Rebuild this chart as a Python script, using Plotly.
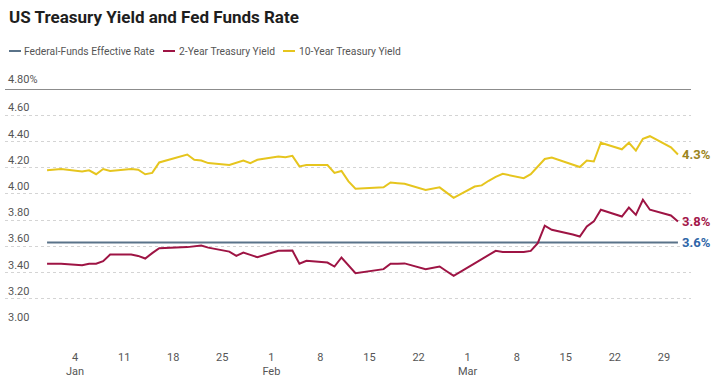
import plotly.graph_objects as go

# ---------------- data ----------------
dates = [
    "2025-12-31", "2026-01-02",
    "2026-01-05", "2026-01-06", "2026-01-07", "2026-01-08", "2026-01-09",
    "2026-01-12", "2026-01-13", "2026-01-14", "2026-01-15", "2026-01-16",
    "2026-01-20", "2026-01-21", "2026-01-22", "2026-01-23",
    "2026-01-26", "2026-01-27", "2026-01-28", "2026-01-29", "2026-01-30",
    "2026-02-02", "2026-02-03", "2026-02-04", "2026-02-05", "2026-02-06",
    "2026-02-09", "2026-02-10", "2026-02-11", "2026-02-12", "2026-02-13",
    "2026-02-17", "2026-02-18", "2026-02-19", "2026-02-20",
    "2026-02-23", "2026-02-24", "2026-02-25", "2026-02-26", "2026-02-27",
    "2026-03-02", "2026-03-03", "2026-03-04", "2026-03-05", "2026-03-06",
    "2026-03-09", "2026-03-10", "2026-03-11", "2026-03-12", "2026-03-13",
    "2026-03-16", "2026-03-17", "2026-03-18", "2026-03-19", "2026-03-20",
    "2026-03-23", "2026-03-24", "2026-03-25", "2026-03-26", "2026-03-27",
    "2026-03-30", "2026-03-31",
]

ten_year = [
    4.18, 4.19,
    4.17, 4.18, 4.15, 4.19, 4.175,
    4.19, 4.185, 4.15, 4.16, 4.24,
    4.30, 4.26, 4.255, 4.235,
    4.22, 4.24, 4.255, 4.235, 4.26,
    4.285, 4.28, 4.29, 4.21, 4.22,
    4.22, 4.16, 4.175, 4.095, 4.04,
    4.05, 4.087, 4.082, 4.077,
    4.03, 4.04, 4.05, 4.01, 3.97,
    4.056, 4.065, 4.10, 4.13, 4.153,
    4.12, 4.15, 4.21, 4.266, 4.278,
    4.225, 4.205, 4.255, 4.247, 4.39,
    4.34, 4.39, 4.33, 4.42, 4.44,
    4.355, 4.30,
]

two_year = [
    3.467, 3.467,
    3.455, 3.467, 3.467, 3.487, 3.537,
    3.537, 3.527, 3.507, 3.548, 3.586,
    3.594, 3.600, 3.606, 3.590,
    3.560, 3.527, 3.553, 3.535, 3.517,
    3.566, 3.567, 3.568, 3.467, 3.490,
    3.476, 3.446, 3.515, 3.459, 3.395,
    3.426, 3.467, 3.468, 3.470,
    3.426, 3.436, 3.446, 3.410, 3.375,
    3.470, 3.500, 3.535, 3.566, 3.556,
    3.556, 3.565, 3.624, 3.757, 3.726,
    3.690, 3.675, 3.751, 3.790, 3.879,
    3.827, 3.896, 3.840, 3.955, 3.879,
    3.835, 3.790,
]

fed_funds = [3.63] * len(dates)

series_names = ["Federal-Funds Effective Rate", "2-Year Treasury Yield", "10-Year Treasury Yield"]
end_labels = ["3.6%", "3.8%", "4.3%"]

y_tickvals = [3.0, 3.2, 3.4, 3.6, 3.8, 4.0, 4.2, 4.4, 4.6, 4.8]
y_ticktext = ["3.00", "3.20", "3.40", "3.60", "3.80", "4.00", "4.20", "4.40", "4.60", "4.80%"]

x_tickvals = ["2026-01-04", "2026-01-11", "2026-01-18", "2026-01-25", "2026-02-01",
              "2026-02-08", "2026-02-15", "2026-02-22", "2026-03-01", "2026-03-08",
              "2026-03-15", "2026-03-22", "2026-03-29"]
x_ticktext = ["4<br>Jan", "11", "18", "25", "1<br>Feb", "8", "15", "22", "1<br>Mar",
              "8", "15", "22", "29"]

# ---------------- style ----------------
FONT = "Roboto, sans-serif"
c_fed = "#5a7389"
c_two = "#9e1444"
c_ten = "#e6c51e"
lbl_colors = ["#2f66a8", "#a3164a", "#9a8420"]
line_colors = [c_fed, c_two, c_ten]

W, H = 724, 381
L, R, T, B = 5, 33, 89, 56
PW, PH = W - L - R, H - T - B


def px(x):
    return (x - L) / PW


def py(y):
    return (H - B - y) / PH


fig = go.Figure()
for name, vals, col in zip(series_names, [fed_funds, two_year, ten_year], line_colors):
    fig.add_trace(go.Scatter(x=dates, y=vals, mode="lines", name=name,
                             line=dict(color=col, width=2), showlegend=False))

annotations = []
shapes = []

# title
annotations.append(dict(text="<b>US Treasury Yield and Fed Funds Rate</b>", xref="paper", yref="paper",
                        x=px(7), y=py(17), xanchor="left", yanchor="middle", showarrow=False,
                        font=dict(family=FONT, size=17, color="#1e1e1e")))

# custom legend
leg_y = py(51)
for name, col, (x0, x1, xt) in zip(series_names, line_colors,
                                   [(9, 21, 22), (163, 175, 176.5), (283, 295, 296.5)]):
    shapes.append(dict(type="line", xref="paper", yref="paper", x0=px(x0), x1=px(x1),
                       y0=leg_y, y1=leg_y, line=dict(color=col, width=2)))
    annotations.append(dict(text=name, xref="paper", yref="paper", x=px(xt), y=leg_y,
                            xanchor="left", yanchor="middle", showarrow=False,
                            font=dict(family=FONT, size=10.3, color="#555555")))

# top label of the y axis (sits above the plot edge)
annotations.append(dict(text=y_ticktext[-1], xref="paper", yref="y", x=px(6), y=y_tickvals[-1],
                        xanchor="left", yanchor="bottom", yshift=1, showarrow=False,
                        font=dict(family=FONT, size=11, color="#555555")))

# end labels
for vals, txt, col in zip([fed_funds, two_year, ten_year], end_labels, lbl_colors):
    annotations.append(dict(text="<b>%s</b>" % txt, x=dates[-1], y=vals[-1], xref="x", yref="y",
                            xanchor="left", yanchor="middle", xshift=2, showarrow=False,
                            font=dict(family=FONT, size=13, color=col)))

# top solid line at 4.80
shapes.append(dict(type="line", xref="paper", yref="y", x0=0, x1=1, y0=4.8, y1=4.8,
                   line=dict(color="#666666", width=1.3), layer="above"))

fig.update_layout(
    width=W, height=H,
    margin=dict(l=L, r=R, t=T, b=B, autoexpand=False),
    paper_bgcolor="white", plot_bgcolor="white",
    font=dict(family=FONT, size=11, color="#555555"),
    annotations=annotations, shapes=shapes,
    hovermode=False,
    xaxis=dict(
        type="date",
        range=["2025-12-25 00:00", "2026-04-01 20:40"],
        tickvals=x_tickvals, ticktext=x_ticktext,
        showgrid=False, zeroline=False, showline=False,
        ticks="", ticklabelstandoff=24, automargin=False,
        tickfont=dict(family=FONT, size=11, color="#555555"),
    ),
    yaxis=dict(
        range=[3.0, 4.8],
        tickvals=y_tickvals, ticktext=y_ticktext[:-1] + [""],
        ticklabelposition="inside top", automargin=False,
        showgrid=True, gridcolor="#d4d4d4", griddash="dot", gridwidth=1,
        zeroline=False, showline=False, ticks="",
        tickfont=dict(family=FONT, size=11, color="#555555"),
    ),
)

fig.write_html("out.html", config={"displayModeBar": False},
               post_script="document.body.style.margin='0';")
